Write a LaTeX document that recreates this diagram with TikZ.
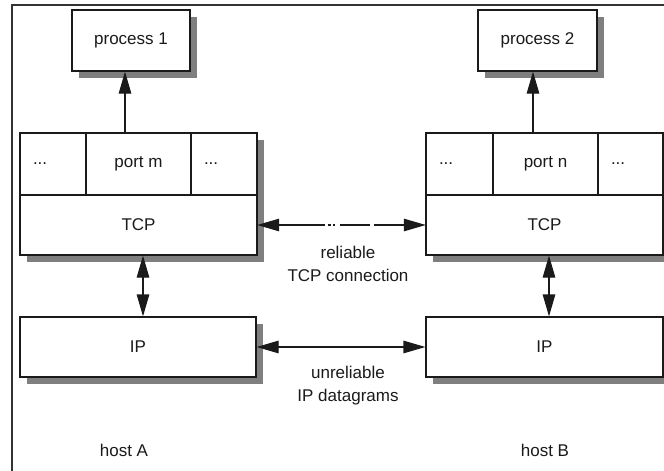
\documentclass[tikz,border=0pt]{standalone}
\usepackage{fontspec}
\setmainfont{Liberation Sans}
\usetikzlibrary{arrows.meta,shadows}
\definecolor{shade}{HTML}{7F7F7F}
\definecolor{ink}{HTML}{1A1A1A}
\definecolor{framec}{HTML}{333333}
\begin{document}
\begin{tikzpicture}[x=1pt,y=-1pt,
  font=\fontsize{17}{23}\selectfont,
  box/.style={draw=ink, line width=1.2pt, fill=white, inner sep=0pt, text=ink},
  shadowed/.style={drop shadow={shadow xshift=7pt, shadow yshift=-7pt, fill=shade, opacity=1}},
  dotcell/.style={box, text width=40pt, align=left, inner xsep=13pt, inner ysep=0pt, minimum height=62pt},
  lbl/.style={text=ink, align=center, inner sep=0pt},
  tip/.tip={Triangle[length=22pt,width=12.5pt]},
  arr/.style={draw=ink, line width=1.2pt, -tip},
  darr/.style={draw=ink, line width=1.2pt, tip-tip},
  tcpdash/.style={dash pattern=on 46pt off 3pt on 3pt off 2pt on 2pt off 5pt on 30pt off 4pt on 33pt off 4pt on 60pt}
]
\useasboundingbox (0,0) rectangle (664,471);
\clip (0,0) rectangle (664,471);
\draw[line width=2pt, draw=framec] (12,5) rectangle (700,500);

% processes
\node[box,shadowed,minimum width=118pt,minimum height=61pt] (proc1) at (131,40.5) {process 1};
\node[box,shadowed,minimum width=119pt,minimum height=61pt] (proc2) at (537.5,40.5) {process 2};

% host A TCP
\node[box,shadowed,minimum width=237pt,minimum height=122pt] (tcpA) at (138.5,194) {};
\node[dotcell] (dotsA1) at (53,164) {...};
\node[box,minimum width=105pt,minimum height=62pt] (portm) at (138.5,164) {port m};
\node[dotcell] (dotsA2) at (224,164) {...};
\node[lbl,minimum width=237pt,minimum height=60pt] (tcpAlow) at (138.5,225) {TCP};

% host B TCP
\node[box,shadowed,minimum width=237pt,minimum height=122pt] (tcpB) at (544.5,194) {};
\node[dotcell,text width=41pt] (dotsB1) at (459.5,164) {...};
\node[box,minimum width=105pt,minimum height=62pt] (portn) at (545.5,164) {port n};
\node[dotcell,text width=39pt] (dotsB2) at (630.5,164) {...};
\node[lbl,minimum width=237pt,minimum height=60pt] (tcpBlow) at (544.5,225) {TCP};

% IP
\node[box,shadowed,minimum width=236pt,minimum height=60pt] (ipA) at (138,347) {IP};
\node[box,shadowed,minimum width=237pt,minimum height=60pt] (ipB) at (544.5,347) {IP};

% arrows up to processes
\coordinate (a1) at ([xshift=-13.5pt]portm.north);
\coordinate (a2) at ([xshift=-12.5pt]portn.north);
\draw[arr] (a1) -- (a1 |- proc1.south);
\draw[arr] (a2) -- (a2 |- proc2.south);

% TCP <-> IP
\coordinate (b1) at ([xshift=4.5pt]tcpA.south);
\coordinate (b2) at ([xshift=4.5pt]tcpB.south);
\draw[darr] (b1) -- (b1 |- ipA.north);
\draw[darr] (b2) -- (b2 |- ipB.north);

% horizontal connections
\draw[darr,tcpdash] (tcpAlow.east) -- (tcpBlow.west);
\draw[darr] (ipA.east) -- (ipB.west);

% labels
\node[lbl] (rel) at (348,264) {reliable\\TCP connection};
\node[lbl] (unrel) at (348,386) {unreliable\\IP datagrams};
\node[lbl] (hostA) at (124,450) {host A};
\node[lbl] (hostB) at (545,450) {host B};
\end{tikzpicture}
\end{document}
